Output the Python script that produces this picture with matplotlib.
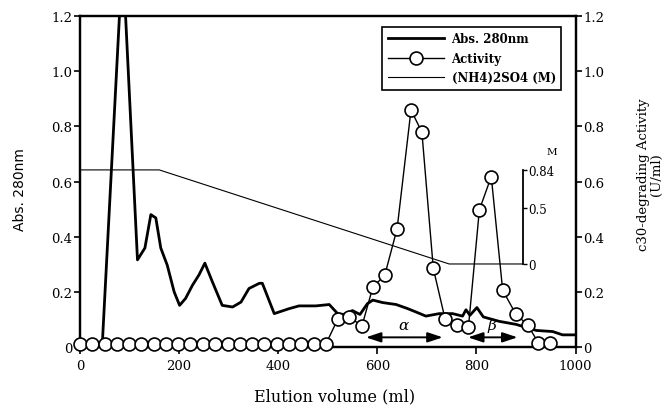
import matplotlib
matplotlib.use("Agg")
import matplotlib.pyplot as plt
from matplotlib.lines import Line2D

# ---------------- data ----------------
abs_x = [45, 86, 116, 131, 143, 153, 163, 176, 190, 201, 213, 227, 240, 252, 267,
         287, 308, 325, 341, 362, 368, 392, 422, 442, 476, 503, 520, 532, 550, 565,
         580, 591, 611, 638, 660, 678, 698, 725, 752, 772, 779, 787, 801, 814, 846,
         880, 921, 954, 974, 998]
abs_y = [0.01, 1.42, 0.316, 0.359, 0.48, 0.468, 0.359, 0.297, 0.20, 0.151, 0.176,
         0.224, 0.261, 0.304, 0.237, 0.151, 0.145, 0.163, 0.212, 0.231, 0.231, 0.121,
         0.139, 0.149, 0.149, 0.154, 0.121, 0.118, 0.132, 0.118, 0.157, 0.170, 0.161,
         0.154, 0.140, 0.127, 0.112, 0.121, 0.121, 0.112, 0.135, 0.115, 0.143, 0.109,
         0.093, 0.082, 0.060, 0.056, 0.044, 0.044]

act_x = [0, 25, 50, 74, 99, 124, 149, 174, 198, 223, 248, 273, 298, 322, 347, 372,
         397, 422, 447, 472, 496, 520, 543, 569, 591, 615, 640, 668, 690, 713, 737,
         761, 784, 806, 830, 853, 879, 904, 925, 948]
act_y = [0.01] * 21 + [0.10, 0.11, 0.076, 0.217, 0.26, 0.429, 0.859, 0.779, 0.285,
                       0.10, 0.078, 0.074, 0.497, 0.618, 0.206, 0.121, 0.078, 0.016,
                       0.016]

salt_x = [0, 160, 745, 894]
salt_m = [0.84, 0.84, 0.0, 0.0]

y_ticks = [0, 0.2, 0.4, 0.6, 0.8, 1.0, 1.2]
y_ticklabels = ["0", "0.2", "0.4", "0.6", "0.8", "1.0", "1.2"]
x_ticks = [0, 200, 400, 600, 800, 1000]
m_ticks = [0, 0.5, 0.84]
m_ticklabels = ["0", "0.5", "0.84"]

alpha_range = [577, 732]
beta_range = [783, 883]

# ---------------- figure ----------------
W, H = 665, 406
fig = plt.figure(figsize=(W / 100, H / 100), dpi=100)
left, right, bottom, top = 80, 575.5, 348, 17
ax = fig.add_axes([left / W, (H - bottom) / H, (right - left) / W, (bottom - top) / H])

serif = "DejaVu Serif"
tick_fs = 9.5

ax.set_xlim(0, 1000)
ax.set_ylim(0, 1.2)
for s in ax.spines.values():
    s.set_linewidth(1.6)

ax.set_xticks(x_ticks)
ax.set_xticklabels([str(v) for v in x_ticks], fontfamily=serif, fontsize=tick_fs)
ax.set_yticks(y_ticks)
ax.set_yticklabels(y_ticklabels, fontfamily=serif, fontsize=tick_fs)
ax.tick_params(axis="both", direction="out", length=4, width=1.2, pad=1.5)
ax.tick_params(axis="x", length=5, pad=4)

# (NH4)2SO4 axis, aligned so that 0 M sits at ~0.30 and 0.84 M at ~0.642 on the left scale
ax3 = ax.twinx()
y0_left, y84_left = 0.301, 0.642
k = 0.84 / (y84_left - y0_left)
ax3.set_ylim(-y0_left * k, 0.84 + (1.2 - y84_left) * k)
for name in ["left", "top", "bottom"]:
    ax3.spines[name].set_visible(False)
ax3.spines["right"].set_position(("data", 894))
ax3.spines["right"].set_bounds(0, 0.84)
ax3.spines["right"].set_linewidth(1.3)
ax3.set_yticks(m_ticks)
ax3.set_yticklabels(m_ticklabels, fontfamily=serif, fontsize=8.5)
ax3.tick_params(axis="y", direction="out", length=3, width=1.0, pad=1)
ax3.text(952, 1.0, "M", ha="center", va="center", fontfamily=serif, fontsize=7.5)
l_salt, = ax3.plot(salt_x, salt_m, color="black", lw=0.8)

# Activity axis
ax2 = ax.twinx()
ax2.set_ylim(0, 1.2)
for s in ax2.spines.values():
    s.set_linewidth(1.6)
ax2.set_yticks(y_ticks)
ax2.set_yticklabels(y_ticklabels, fontfamily=serif, fontsize=tick_fs)
ax2.tick_params(axis="y", direction="out", length=4, width=1.2, pad=1.5)

l_abs, = ax.plot(abs_x, abs_y, color="black", lw=2.0, solid_joinstyle="round")
l_act, = ax2.plot(act_x, act_y, color="black", lw=1.0, marker="o", ms=9.3,
                  mfc="white", mec="black", mew=1.2, clip_on=False, zorder=5)

# fraction pools
for rng, lab in [(alpha_range, "\u03b1"), (beta_range, "\u03b2")]:
    ax.annotate("", xy=(rng[0], 0.035), xytext=(rng[1], 0.035),
                arrowprops=dict(arrowstyle="<|-|>,head_length=0.9,head_width=0.3",
                                color="black", lw=1.4, shrinkA=0, shrinkB=0))
    ax.text((rng[0] + rng[1]) / 2 - 2, 0.078, lab, ha="center", va="center",
            fontfamily=serif, fontstyle="italic", fontsize=11)

# labels
fig.text(20 / W, 1 - 190 / H, "Abs. 280nm", rotation=90, ha="center", va="center",
         fontfamily="DejaVu Sans", fontsize=10)
fig.text(335 / W, 1 - 397 / H, "Elution volume (ml)", ha="center", va="center",
         fontfamily=serif, fontsize=11.5)
fig.text(650 / W, 1 - 175 / H, "c30-degrading Activity\n(U/ml)", rotation=90,
         ha="center", va="center", fontfamily=serif, fontsize=9.5, linespacing=1.0,
         multialignment="center")

# legend
handles = [l_abs, Line2D([], [], color="black", lw=1.0, marker="o", ms=9.3,
                         mfc="white", mec="black", mew=1.2), l_salt]
leg = ax2.legend(handles, ["Abs. 280nm", "Activity", "(NH4)2SO4 (M)"],
                 loc="upper right", bbox_to_anchor=(567 / W, 1 - 22 / H),
                 bbox_transform=fig.transFigure, frameon=True, fancybox=False,
                 framealpha=1, edgecolor="black", handlelength=4.8,
                 labelspacing=0.55, borderpad=0.45, handletextpad=0.6,
                 prop={"family": serif, "size": 8.5, "weight": "bold"})
leg.get_frame().set_linewidth(1.2)
leg.set_zorder(20)

fig.savefig("out.png", dpi=100)
